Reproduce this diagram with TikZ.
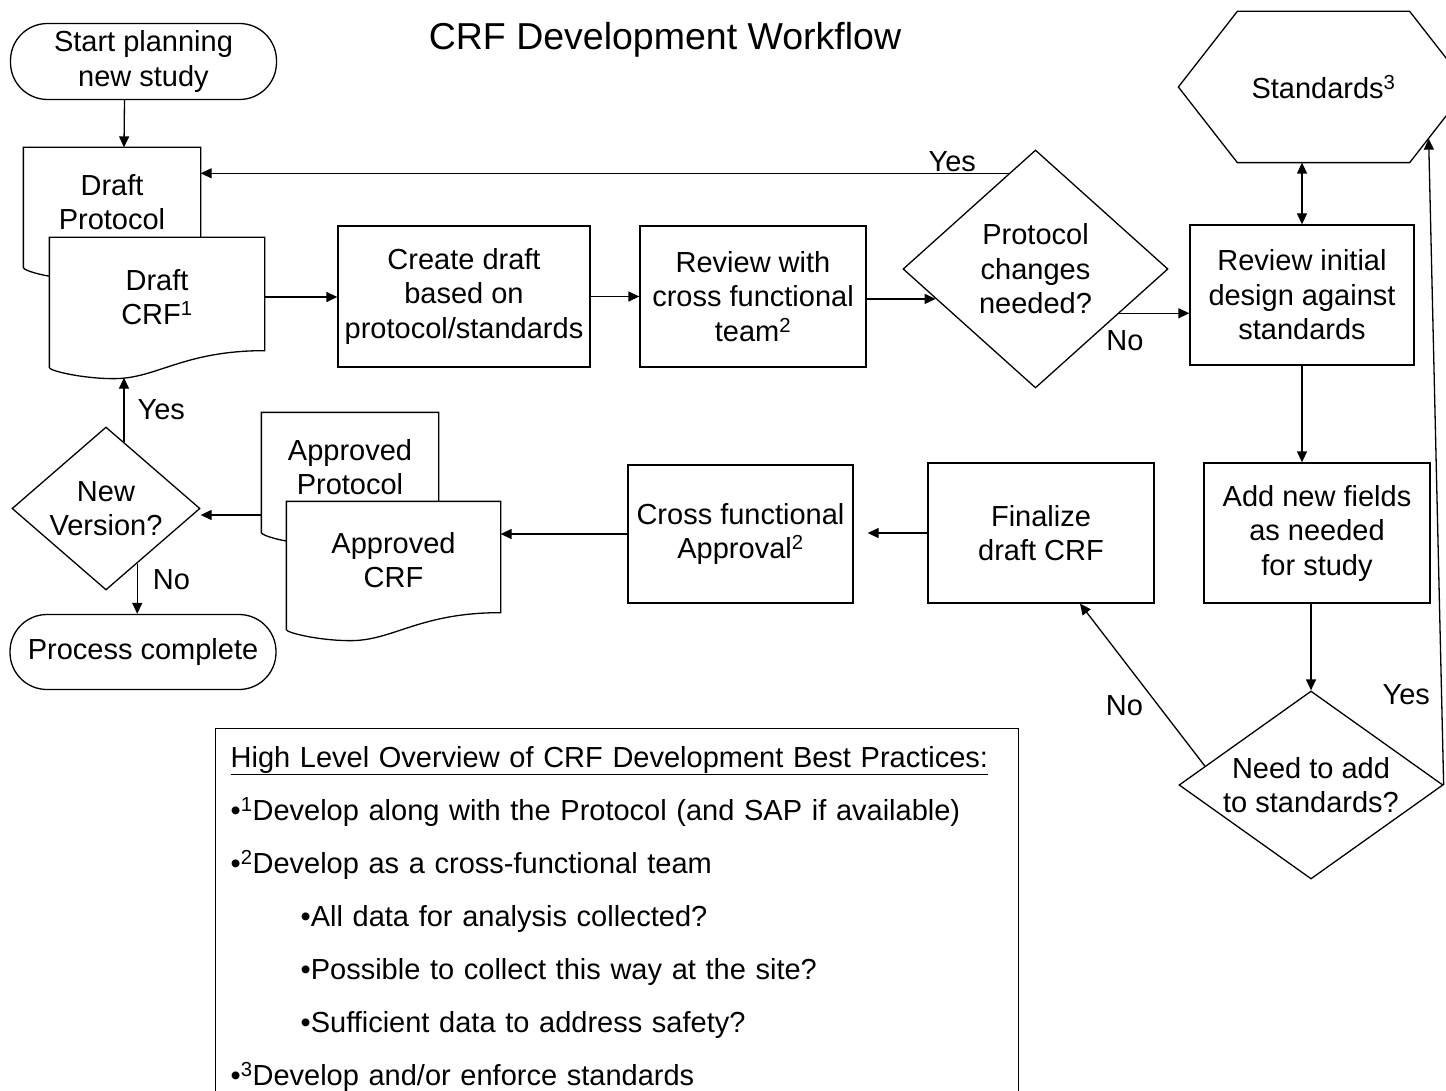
\documentclass[tikz,border=0pt]{standalone}
\usepackage{fontspec}
\setmainfont{Liberation Sans}
\usetikzlibrary{arrows.meta, positioning, shapes.geometric, calc, backgrounds}
\tikzset{
  every picture/.style={font=\fontsize{29pt}{34.5pt}\selectfont, line width=1.3pt},
  proc/.style={draw, rectangle, align=center, inner sep=2pt},
  term/.style={draw, rectangle, rounded corners=37pt, align=center, inner sep=2pt, minimum width=266pt, minimum height=76pt},
  decision/.style={draw, diamond, align=center, inner sep=0pt},
  docnode/.style={align=center, inner sep=2pt},
  docline/.style={draw, fill=white, line width=1.3pt},
  arrow/.style={-{Triangle[length=11pt, width=10pt]}},
  dblarrow/.style={{Triangle[length=11pt, width=10pt]}-{Triangle[length=11pt, width=10pt]}},
  lbl/.style={inner sep=1pt},
  notebox/.style={draw, align=left, anchor=north west, text width=773pt, inner xsep=15pt, inner ysep=14pt, minimum height=380pt, font=\fontsize{29pt}{53pt}\selectfont},
}
% page shape with a wavy foot, drawn round a named node
\newcommand{\docoutline}[1]{%
  \draw[docline] (#1.north west) -- (#1.north east) -- ($(#1.south east)+(0,-6)$)
    .. controls ($(#1.south west)!0.62!(#1.south east)+(0,-6)$) and ($(#1.south west)!0.5!(#1.south east)+(0,22)$)
    .. ($(#1.south west)!0.3!(#1.south east)+(0,22)$)
    .. controls ($(#1.south west)!0.15!(#1.south east)+(0,22)$) and ($(#1.south west)+(0,14)$)
    .. ($(#1.south west)+(0,11)$) -- cycle;}

\begin{document}
\begin{tikzpicture}[x=1pt, y=-1pt]
  \useasboundingbox (0,0) rectangle (1446,1091);
  \node[font=\fontsize{37.5pt}{40pt}\selectfont] (title) at (665,40) {CRF Development Workflow};
  % top row
  \node[term] (start) at (143.5,61.5) {Start planning\\new study};
  \node[docnode, minimum width=176pt, minimum height=108pt] (dprot) at (112,202) {Draft\\Protocol};
  \node[docnode, minimum width=214pt, minimum height=118pt] (dcrf) at (157,297) {Draft\\CRF\textsuperscript{1}};
  \node[proc, minimum width=252pt, minimum height=141pt] (cdraft) at (464,296.5) {Create draft\\based on\\protocol/standards};
  \node[proc, minimum width=226pt, minimum height=141pt] (rev) at (753,296.5) {Review with\\cross functional\\team\textsuperscript{2}};
  \node[decision, aspect=1.11, minimum width=265pt, minimum height=238pt] (pchg) at (1035.5,269) {Protocol\\changes\\needed?};
  \node[proc, minimum width=224pt, minimum height=140pt] (revi) at (1302,295) {Review initial\\design against\\standards};
  \node[minimum width=289pt, minimum height=150pt, inner sep=0pt] (std) at (1323.5,87) {Standards\textsuperscript{3}};
  \draw (std.west) -- ($(std.north west)+(59,0)$) -- ($(std.north east)+(-59,0)$) -- (std.east)
    -- ($(std.south east)+(-59,0)$) -- ($(std.south west)+(59,0)$) -- cycle;
  % bottom row
  \node[proc, minimum width=226pt, minimum height=140pt] (addf) at (1317,533) {Add new fields\\as needed\\for study};
  \node[decision, aspect=1.4, minimum width=264pt, minimum height=188pt] (need) at (1311,785) {Need to add\\to standards?};
  \node[proc, minimum width=226pt, minimum height=140pt] (fin) at (1041,533) {Finalize\\draft CRF};
  \node[proc, minimum width=225pt, minimum height=138pt] (cross) at (740.5,534) {Cross functional\\Approval\textsuperscript{2}};
  \node[docnode, minimum width=176pt, minimum height=108pt] (approt) at (350,467) {Approved\\Protocol};
  \node[docnode, minimum width=213pt, minimum height=116pt] (apcrf) at (393.5,560) {Approved\\CRF};
  \node[decision, aspect=1.15, minimum width=188pt, minimum height=163pt] (newv) at (106,508.5) {New\\Version?};
  \node[term, minimum height=75pt] (done) at (143,652) {Process complete};
  \begin{scope}[on background layer]
    \docoutline{dprot}
    \docoutline{dcrf}
    \docoutline{approt}
    \docoutline{apcrf}
  \end{scope}
  % notes
  \node[notebox] (notes) at (215,728) {\underline{High Level Overview of CRF Development Best Practices:}\\
    •\textsuperscript{1}Develop along with the Protocol (and SAP if available)\\
    •\textsuperscript{2}Develop as a cross-functional team\\
    \hspace*{70pt}•All data for analysis collected?\\
    \hspace*{70pt}•Possible to collect this way at the site?\\
    \hspace*{70pt}•Sufficient data to address safety?\\
    •\textsuperscript{3}Develop and/or enforce standards};
  % connectors
  \draw[arrow] ($(start.south)+(-19,0)$) -- ($(dprot.north)+(12,0)$);
  \coordinate (pyes) at ($(pchg.north)!0.2!(pchg.west)$);
  \draw[arrow] (pyes) -- (pyes -| dprot.east) node[lbl, pos=0.07, above] {Yes};
  \draw[arrow] (dcrf.east) -- (dcrf.east -| cdraft.west);
  \draw[arrow] (cdraft.east) -- (rev.west);
  \coordinate (pin) at ($(pchg.west)!0.25!(pchg.south)$);
  \draw[arrow] (pin -| rev.east) -- (pin);
  \coordinate (pno) at ($(pchg.east)!0.37!(pchg.south)$);
  \draw[arrow] (pno) -- (pno -| revi.west) node[lbl, pos=0.08, below=16pt] {No};
  \draw[dblarrow] (std.south -| revi.north) -- (revi.north);
  \draw[arrow] (revi.south) -- (revi.south |- addf.north);
  \draw[arrow] (need.north |- addf.south) -- (need.north);
  \coordinate (syes) at ($(std.south east)+(-40,-24)$);
  \draw[arrow] (need.east) -- (syes) node[lbl, pos=0.14, left=10pt] {Yes};
  \coordinate (nno) at ($(need.west)!0.2!(need.north)$);
  \coordinate (fbot) at ($(fin.south)+(39,0)$);
  \draw[arrow] (nno) -- (fbot) node[lbl, pos=0.37, left=14pt] {No};
  \draw[arrow, shorten >=14pt] (fin.west) -- (fin.west -| cross.east);
  \draw[arrow] (cross.west) -- (cross.west -| apcrf.east);
  \coordinate (aout) at ($(approt.west)+(0,48)$);
  \draw[arrow] (aout) -- (aout -| newv.east);
  \coordinate (nyes) at ($(newv.north)!0.19!(newv.east)$);
  \draw[arrow] (nyes) -- ($(nyes |- dcrf.south)+(0,21)$) node[lbl, pos=0.5, right=12pt] {Yes};
  \coordinate (nno2) at ($(newv.south)!0.33!(newv.east)$);
  \draw[arrow] (nno2) -- (nno2 |- done.north) node[lbl, pos=0.33, right=14pt] {No};
\end{tikzpicture}
\end{document}
